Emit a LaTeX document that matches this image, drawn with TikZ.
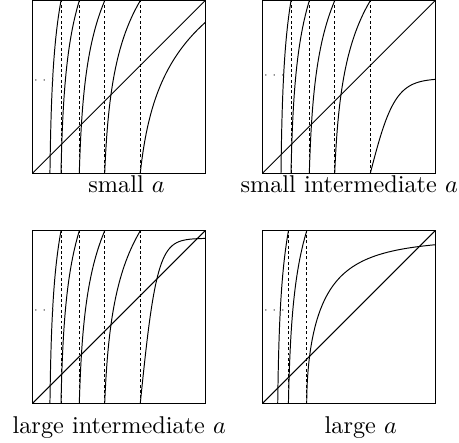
\documentclass[tikz,border=0pt]{standalone}
\usepackage{tikz}
\begin{document}
\begin{tikzpicture}[x=1cm,y=1cm]
  \tikzstyle{frame}=[draw=black, thin]
  \tikzstyle{branch}=[draw=black, thin]
  \tikzstyle{asym}=[draw=black, thin, dash pattern=on 1.2pt off 1pt]
  \tikzstyle{caption}=[anchor=base, inner sep=0pt]
  \tikzstyle{dots}=[font=\tiny, inner sep=0pt, text=black!70]

  \path[use as bounding box] (-0.468,-3.903) rectangle (6.177,2.51);

  % small a
  \begin{scope}[shift={(0,0)}, x=2.5cm, y=2.5cm]
    \begin{scope}
      \clip (0,0) rectangle (1,1);
      \foreach \a/\b in {0.102/0.166,0.166/0.272,0.272/0.419,0.419/0.625}
        \draw[branch] plot[domain=0:1, samples=40] ({\a+(\b-\a)*(exp(2.674*\x)-1)/13.5}, \x);
      \foreach \a in {0.166,0.272,0.419,0.625}
        \draw[asym] (\a,0) -- (\a,1);
      \draw[branch] plot[domain=0:0.9, samples=40] ({0.625+0.543*(exp(2.674*\x)-1)/13.5}, \x);
      \draw[branch] (0,0) -- (1,1);
    \end{scope}
    \draw[frame] (0,0) rectangle (1,1);
    \node[dots] (dotsA) at (0.07,0.54) {$\cdots$};
  \end{scope}

  % small intermediate a
  \begin{scope}[shift={(3.33,0)}, x=2.5cm, y=2.5cm]
    \begin{scope}
      \clip (0,0) rectangle (1,1);
      \foreach \a/\b in {0.108/0.166,0.166/0.272,0.272/0.419,0.419/0.625}
        \draw[branch] plot[domain=0:1, samples=40] ({\a+(\b-\a)*(exp(2.674*\x)-1)/13.5}, \x);
      \foreach \a in {0.166,0.272,0.419,0.625}
        \draw[asym] (\a,0) -- (\a,1);
      \draw[branch] plot[domain=0:0.375, samples=50] ({0.625+\x}, {0.55*tanh(7*\x)});
      \draw[branch] (0,0) -- (1,1);
    \end{scope}
    \draw[frame] (0,0) rectangle (1,1);
    \node[dots] (dotsB) at (0.07,0.565) {$\cdots$};
  \end{scope}

  % large intermediate a
  \begin{scope}[shift={(0,-3.332)}, x=2.5cm, y=2.5cm]
    \begin{scope}
      \clip (0,0) rectangle (1,1);
      \foreach \a/\b in {0.102/0.166,0.166/0.272,0.272/0.419,0.419/0.625}
        \draw[branch] plot[domain=0:1, samples=40] ({\a+(\b-\a)*(exp(2.674*\x)-1)/13.5}, \x);
      \foreach \a in {0.166,0.272,0.419,0.625}
        \draw[asym] (\a,0) -- (\a,1);
      \draw[branch] plot[domain=0:0.375, samples=60] ({0.625+\x}, {0.957*tanh(10.2*\x)});
      \draw[branch] (0,0) -- (1,1);
    \end{scope}
    \draw[frame] (0,0) rectangle (1,1);
    \node[dots] (dotsC) at (0.07,0.54) {$\cdots$};
  \end{scope}

  % large a
  \begin{scope}[shift={(3.33,-3.332)}, x=2.5cm, y=2.5cm]
    \begin{scope}
      \clip (0,0) rectangle (1,1);
      \foreach \a/\b in {0.089/0.151,0.151/0.257}
        \draw[branch] plot[domain=0:1, samples=40] ({\a+(\b-\a)*(exp(2.674*\x)-1)/13.5}, \x);
      \foreach \a in {0.151,0.257}
        \draw[asym] (\a,0) -- (\a,1);
      \draw[branch] plot[domain=0:0.862, samples=60] ({0.257+\x*\x}, {0.955*tanh(2.3*\x)});
      \draw[branch] (0,0) -- (1,1);
    \end{scope}
    \draw[frame] (0,0) rectangle (1,1);
    \node[dots] (dotsD) at (0.07,0.54) {$\cdots$};
  \end{scope}

  \node[caption] (capA) at (1.364,-0.27) {small $a$};
  \node[caption] (capB) at (4.587,-0.27) {small intermediate $a$};
  \node[caption] (capC) at (1.258,-3.76) {large intermediate $a$};
  \node[caption] (capD) at (4.755,-3.76) {large $a$};
\end{tikzpicture}
\end{document}
